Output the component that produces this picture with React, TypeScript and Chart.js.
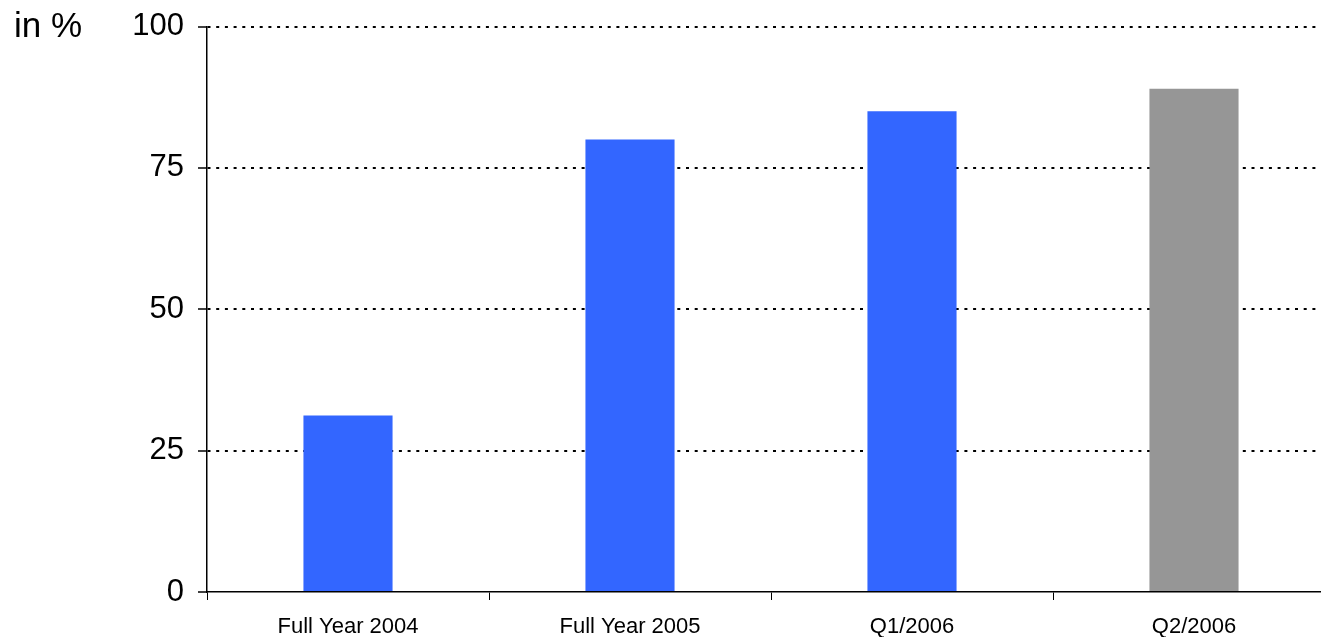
import React, { useEffect, useRef } from "react";
import { Chart, registerables } from "chart.js";

Chart.register(...registerables);

const categories = ["Full Year 2004", "Full Year 2005", "Q1/2006", "Q2/2006"];
const values = [31.2, 80, 85, 89];
const barColors = ["#3366FF", "#3366FF", "#3366FF", "#969696"];
const yTicks = [0, 25, 50, 75, 100];
const unitLabel = "in %";

const FONT = "'Liberation Sans', Arial, sans-serif";

export default function App() {
  const ref = useRef<HTMLCanvasElement | null>(null);

  useEffect(() => {
    const canvas = ref.current;
    if (!canvas) return;

    const unitPlugin = {
      id: "unitLabel",
      afterDraw(chart: any) {
        const ctx = chart.ctx;
        ctx.save();
        ctx.font = `35px ${FONT}`;
        ctx.fillStyle = "#000";
        ctx.textAlign = "left";
        ctx.textBaseline = "alphabetic";
        ctx.fillText(unitLabel, 14, 37);
        ctx.restore();
      },
    };

    const chart = new Chart(canvas, {
      type: "bar",
      data: {
        labels: categories,
        datasets: [
          {
            data: values,
            backgroundColor: barColors,
            borderWidth: 0,
            barPercentage: 0.316,
            categoryPercentage: 1,
          },
        ],
      },
      options: {
        responsive: false,
        animation: false,
        layout: { padding: { left: 0, top: 26.5, right: 10, bottom: 0 } },
        plugins: {
          legend: { display: false },
          tooltip: { enabled: false },
          title: { display: false },
        },
        scales: {
          x: {
            grid: {
              offset: true,
              drawOnChartArea: false,
              drawTicks: true,
              tickLength: 8,
              tickColor: "#000",
              tickWidth: 1,
            },
            border: { display: true, color: "#000", width: 1.5 },
            ticks: {
              color: "#000",
              font: { family: FONT, size: 22 },
              padding: 14,
              maxRotation: 0,
              autoSkip: false,
            },
            afterFit(scale: any) {
              scale.height = 45;
              scale.paddingLeft = 0;
              scale.paddingRight = 0;
            },
          },
          y: {
            min: 0,
            max: 100,
            afterBuildTicks(scale: any) {
              scale.ticks = yTicks.map((v) => ({ value: v }));
            },
            grid: {
              color: (ctx: any) => (ctx.tick && ctx.tick.value === 0 ? "rgba(0,0,0,0)" : "#000"),
              lineWidth: 2,
              drawTicks: true,
              tickLength: 9,
              tickColor: "#000",
              tickWidth: 1.5,
              tickBorderDash: [20, 0],
            },
            border: { display: true, color: "#000", width: 1.5, dash: [3, 5.7] },
            ticks: {
              color: "#000",
              font: { family: FONT, size: 31 },
              padding: 14,
            },
            afterFit(scale: any) {
              scale.width = 207;
              scale.paddingTop = 0;
              scale.paddingBottom = 0;
            },
          },
        },
      },
      plugins: [unitPlugin],
    });

    return () => chart.destroy();
  }, []);

  return (
    <div
      style={{
        position: "fixed",
        left: 0,
        top: 0,
        width: 1321,
        height: 637,
        overflow: "hidden",
        background: "#fff",
      }}
    >
      <canvas ref={ref} width={1345} height={637} style={{ display: "block", width: 1345, height: 637 }} />
    </div>
  );
}
